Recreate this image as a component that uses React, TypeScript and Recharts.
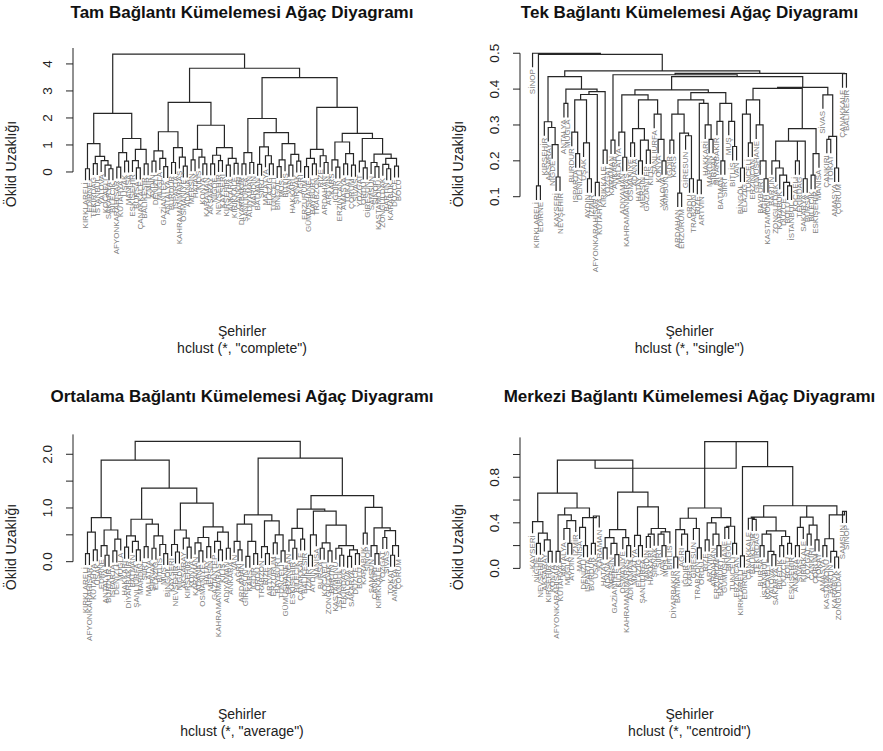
import React from "react";
import { ComposedChart, Line, Scatter, XAxis, YAxis, ReferenceLine } from "recharts";

// A dendrogram node is [merge height, left, right]; 0 is a leaf.
// Leaves take their city names from left to right.
type Tree = 0 | [number, Tree, Tree];

const completeTree: Tree = [4.36,
  [2.17,
    [1.05, [0.12, 0, 0], [0.58, [0.31, 0, 0], [0.42, 0, [0.25, 0, [0.12, 0, 0]]]]],
    [1.24, [0.72, [0.18, 0, 0], [0.4, 0, 0]], [0.84, [0.42, 0, [0.15, 0, 0]], [0.3, 0, 0]]]],
  [3.84,
    [2.58,
      [1.49, [0.78, [0.4, 0, 0], [0.5, 0, [0.2, 0, 0]]], [0.9, [0.35, 0, 0], [0.55, 0, [0.22, 0, 0]]]],
      [1.73, [0.84, [0.45, 0, 0], [0.55, 0, [0.3, 0, 0]]], [0.9, [0.62, [0.3, 0, 0], [0.42, 0, 0]], [0.5, [0.25, 0, 0], [0.32, 0, 0]]]]],
    [3.49,
      [1.98, [0.72, [0.3, 0, 0], [0.35, 0, 0]],
        [1.46, [0.93, [0.28, 0, 0], [0.6, 0, [0.3, 0, 0]]], [1.05, [0.45, [0.2, 0, 0], 0], [0.65, [0.25, 0, 0], [0.4, 0, 0]]]]],
      [2.39, [0.84, [0.5, [0.2, 0, 0], [0.3, 0, 0]], [0.6, 0, [0.35, 0, 0]]],
        [1.43, [1.11, [0.45, 0, [0.18, 0, 0]], [0.68, [0.3, 0, 0], [0.25, 0, 0]]],
          [1.24, [0.4, 0, [0.15, 0, 0]], [0.66, [0.35, 0, [0.2, 0, 0]], [0.5, [0.28, 0, [0.12, 0, 0]], [0.22, 0, 0]]]]]]]]];

const completeCities = ["KIRKLARELİ", "EDİRNE", "TEKİRDAĞ", "İSTANBUL", "YALOVA", "KOCAELİ", "SAKARYA", "BİLECİK",
  "AFYONKARAHİSAR", "KÜTAHYA", "UŞAK", "MANİSA", "ESKİŞEHİR", "BURSA", "ÇANAKKALE", "BALIKESİR", "İZMİR",
  "AYDIN", "DENİZLİ", "MUĞLA", "GAZİANTEP", "ANTALYA", "BURDUR", "ISPARTA", "KAHRAMANMARAŞ", "OSMANİYE", "ADANA",
  "MERSİN", "HATAY", "KİLİS", "KONYA", "KARAMAN", "AKSARAY", "NİĞDE", "NEVŞEHİR", "KAYSERİ", "KIRŞEHİR", "ANKARA",
  "KIRIKKALE", "ÇANKIRI", "DİYARBAKIR", "ŞANLIURFA", "ADIYAMAN", "MARDİN", "BATMAN", "SİİRT", "MALATYA", "ELAZIĞ",
  "TUNCELİ", "BİNGÖL", "MUŞ", "BİTLİS", "VAN", "HAKKARİ", "ŞIRNAK", "AĞRI", "ERZURUM", "GÜMÜŞHANE", "BAYBURT",
  "TRABZON", "RİZE", "ARDAHAN", "ARTVİN", "KARS", "IĞDIR", "ERZİNCAN", "AMASYA", "TOKAT", "ÇORUM", "SİVAS", "YOZGAT",
  "ORDU", "GİRESUN", "SAMSUN", "SİNOP", "KASTAMONU", "ZONGULDAK", "BARTIN", "KARABÜK", "DÜZCE", "BOLU"];

const singleTree: Tree = [0.5, 0,
  [0.497, [0.13, 0, 0],
    [0.451,
      [0.435,
        [0.309, 0, [0.293, 0, [0.245, 0, [0.155, 0, 0]]]],
        [0.4, [0.36, 0, 0], [0.393, [0.385, [0.37, [0.28, 0, [0.22, 0, 0]], [0.25, 0, [0.15, 0, 0]]], [0.14, 0, 0]], [0.23, 0, 0]]]],
      [0.444,
        [0.44, [0.258, 0, 0],
          [0.435,
            [0.398,
              [0.384, [0.28, 0, [0.21, 0, 0]], [0.37, [0.29, [0.25, 0, 0], [0.258, [0.2, 0, 0], [0.23, 0, 0]]], [0.33, 0, [0.26, 0, [0.2, 0, 0]]]]],
              [0.39, [0.37, [0.33, [0.258, 0, 0], [0.277, [0.11, 0, 0], [0.27, 0, [0.15, 0, 0]]]], [0.36, [0.146, 0, 0], [0.3, 0, [0.26, 0, 0]]]],
                [0.36, [0.31, 0, [0.2, 0, 0]], [0.31, 0, [0.24, 0, 0]]]]],
            [0.405,
              [0.402, [0.37, [0.33, [0.18, 0, 0], [0.25, 0, 0]], [0.3, 0, [0.2, 0, [0.15, 0, 0]]]],
                [0.29, [0.255, [0.2, 0, [0.18, 0, [0.16, 0, [0.14, 0, [0.13, 0, 0]]]]], [0.255, [0.2, 0, 0], [0.15, 0, 0]]], [0.22, [0.16, 0, 0], 0]]],
              [0.384, 0, [0.268, [0.26, 0, 0], [0.18, 0, 0]]]]]],
        [0.443, 0, 0]]]]];

const singleCities = ["SİNOP", "KIRKLARELİ", "EDİRNE", "KIRŞEHİR", "AKSARAY", "NİĞDE", "KAYSERİ", "NEVŞEHİR",
  "ANTALYA", "MUĞLA", "BURDUR", "ISPARTA", "DENİZLİ", "UŞAK", "AYDIN", "İZMİR", "AFYONKARAHİSAR", "KÜTAHYA",
  "KIRIKKALE", "YOZGAT", "KARAMAN", "ANKARA", "MALATYA", "ADIYAMAN", "KAHRAMANMARAŞ", "OSMANİYE", "ADANA", "HATAY",
  "MERSİN", "GAZİANTEP", "KİLİS", "ŞANLIURFA", "KONYA", "YALOVA", "SAMSUN", "IĞDIR", "KARS", "ARDAHAN", "ERZURUM",
  "GİRESUN", "ORDU", "TRABZON", "RİZE", "ARTVİN", "HAKKARİ", "MARDİN", "ŞIRNAK", "DİYARBAKIR", "BATMAN", "SİİRT",
  "MUŞ", "BİTLİS", "VAN", "BİNGÖL", "ELAZIĞ", "TUNCELİ", "ERZİNCAN", "GÜMÜŞHANE", "BAYBURT", "AĞRI", "KASTAMONU",
  "BARTIN", "ZONGULDAK", "KARABÜK", "DÜZCE", "BOLU", "İSTANBUL", "KOCAELİ", "TEKİRDAĞ", "SAKARYA", "BURSA", "BİLECİK",
  "ESKİŞEHİR", "MANİSA", "SİVAS", "ÇANKIRI", "TOKAT", "AMASYA", "ÇORUM", "ÇANAKKALE", "BALIKESİR"];

const averageTree: Tree = [2.24,
  [1.89,
    [0.82, [0.55, [0.15, 0, 0], [0.22, 0, 0]], [0.59, [0.3, 0, [0.12, 0, 0]], [0.42, [0.2, 0, 0], 0]]],
    [1.37,
      [0.79, [0.48, [0.27, 0, 0], [0.38, 0, [0.22, 0, 0]]], [0.7, [0.28, 0, 0], [0.48, [0.25, 0, 0], [0.32, 0, [0.15, 0, 0]]]]],
      [1.09, [0.59, [0.32, 0, [0.18, 0, 0]], [0.44, 0, [0.27, 0, 0]]],
        [0.65, [0.45, [0.35, 0, [0.2, 0, 0]], [0.28, 0, 0]], [0.55, [0.38, 0, [0.22, 0, 0]], [0.25, 0, 0]]]]]],
  [1.93,
    [0.87, [0.7, [0.38, 0, [0.22, 0, 0]], [0.38, [0.1, 0, 0], [0.15, 0, 0]]], [0.76, [0.28, 0, [0.15, 0, 0]], [0.5, [0.35, 0, 0], [0.2, 0, 0]]]],
    [1.23,
      [0.98, [0.62, [0.4, 0, [0.25, 0, 0]], [0.42, 0, 0]],
        [0.94, [0.5, [0.12, 0, 0], 0], [0.68, [0.35, [0.25, 0, 0], [0.2, 0, 0]], [0.3, [0.25, 0, [0.12, 0, 0]], [0.22, [0.1, 0, 0], [0.15, 0, 0]]]]]],
      [1.01, [0.53, 0, 0], [0.63, [0.3, 0, [0.15, 0, 0]], [0.58, [0.45, 0, 0], [0.3, [0.12, 0, 0], 0]]]]]]];

const averageCities = ["KIRKLARELİ", "AFYONKARAHİSAR", "KÜTAHYA", "UŞAK", "EDİRNE", "ANTALYA", "BURDUR", "ISPARTA",
  "DENİZLİ", "MUĞLA", "HAKKARİ", "DİYARBAKIR", "BATMAN", "ŞANLIURFA", "MARDİN", "SİİRT", "MALATYA", "ŞIRNAK",
  "ELAZIĞ", "BİTLİS", "MUŞ", "BİNGÖL", "KAYSERİ", "NEVŞEHİR", "NİĞDE", "AKSARAY", "KIRŞEHİR", "KONYA", "KARAMAN",
  "ADANA", "OSMANİYE", "HATAY", "MERSİN", "GAZİANTEP", "KAHRAMANMARAŞ", "KİLİS", "ADIYAMAN", "ANKARA", "VAN", "AĞRI",
  "ARDAHAN", "GİRESUN", "KARS", "IĞDIR", "ORDU", "TRABZON", "RİZE", "ARTVİN", "ERZURUM", "BAYBURT", "TUNCELİ",
  "GÜMÜŞHANE", "ERZİNCAN", "ESKİŞEHİR", "BİLECİK", "ÇANAKKALE", "BALIKESİR", "İZMİR", "AYDIN", "MANİSA", "BURSA",
  "KOCAELİ", "ZONGULDAK", "BARTIN", "KASTAMONU", "İSTANBUL", "TEKİRDAĞ", "YALOVA", "SAKARYA", "DÜZCE", "BOLU",
  "KARABÜK", "SİNOP", "SAMSUN", "ÇANKIRI", "KIRIKKALE", "YOZGAT", "SİVAS", "TOKAT", "AMASYA", "ÇORUM"];

// centroid linkage has inversions: a parent can sit below its children
const centroidTree: Tree = [0.879,
  [0.95,
    [0.66,
      [0.41, 0, [0.31, [0.22, 0, 0], [0.25, 0, [0.15, 0, 0]]]],
      [0.53, [0.47, [0.15, 0, 0], [0.42, [0.35, 0, [0.22, 0, 0]], 0]], [0.445, [0.36, 0, [0.2, 0, 0]], [0.46, [0.22, 0, 0], 0]]]],
    [0.67,
      [0.34, [0.27, [0.18, 0, 0], [0.22, 0, [0.12, 0, 0]]], [0.27, 0, [0.2, 0, 0]]],
      [0.54, [0.29, 0, [0.2, 0, 0]], [0.35, [0.3, [0.28, 0, 0], 0], [0.32, [0.3, 0, [0.2, 0, 0]], 0]]]]],
  [1.113,
    [0.53,
      [0.44, [0.34, [0.1, 0, 0], [0.3, 0, [0.15, 0, 0]]], [0.35, 0, [0.18, 0, 0]]],
      [0.445, [0.4, [0.25, 0, 0], [0.3, 0, [0.2, 0, 0]]], [0.37, [0.36, 0, 0], [0.22, 0, 0]]]],
    [0.893, [0.11, 0, 0],
      [0.55,
        [0.45, [0.44, 0, [0.43, 0, 0]], [0.33, [0.3, [0.2, 0, 0], [0.15, 0, [0.12, 0, 0]]], [0.28, [0.2, 0, 0], [0.22, 0, 0]]]],
        [0.548,
          [0.45, [0.36, [0.2, 0, 0], 0], [0.38, [0.3, 0, 0], [0.25, 0, 0]]],
          [0.47, [0.26, [0.2, 0, 0], [0.15, 0, [0.1, 0, 0]]], [0.5, 0, 0]]]]]]];

const centroidCities = ["KAYSERİ", "NİĞDE", "NEVŞEHİR", "AKSARAY", "KIRŞEHİR", "KONYA", "AFYONKARAHİSAR", "KÜTAHYA",
  "ANTALYA", "MUĞLA", "AYDIN", "İZMİR", "MANİSA", "DENİZLİ", "ISPARTA", "BURDUR", "UŞAK", "KARAMAN", "HATAY", "ADANA",
  "MERSİN", "GAZİANTEP", "KİLİS", "OSMANİYE", "KAHRAMANMARAŞ", "ADIYAMAN", "MALATYA", "ELAZIĞ", "ŞANLIURFA", "MARDİN",
  "HAKKARİ", "ŞIRNAK", "SİİRT", "VAN", "MUŞ", "BİTLİS", "DİYARBAKIR", "BATMAN", "AĞRI", "IĞDIR", "KARS", "GİRESUN",
  "TRABZON", "ORDU", "RİZE", "ARTVİN", "ARDAHAN", "ERZURUM", "BAYBURT", "GÜMÜŞHANE", "BİNGÖL", "TUNCELİ", "ERZİNCAN",
  "KIRKLARELİ", "EDİRNE", "ÇANAKKALE", "BALIKESİR", "TEKİRDAĞ", "BURSA", "İSTANBUL", "KOCAELİ", "YALOVA", "SAKARYA",
  "BİLECİK", "DÜZCE", "BOLU", "ESKİŞEHİR", "ANKARA", "SİVAS", "KIRIKKALE", "YOZGAT", "ÇANKIRI", "ÇORUM", "TOKAT",
  "AMASYA", "KASTAMONU", "BARTIN", "KARABÜK", "ZONGULDAK", "SAMSUN", "SİNOP"];

const completeTicks = [0, 1, 2, 3, 4];
const completeTickLabels = ["0", "1", "2", "3", "4"];
const singleTicks = [0.1, 0.2, 0.3, 0.4, 0.5];
const singleTickLabels = ["0.1", "0.2", "0.3", "0.4", "0.5"];
const averageTicks = [0, 0.5, 1, 1.5, 2];
const averageTickLabels = ["0.0", "", "1.0", "", "2.0"];
const centroidTicks = [0, 0.2, 0.4, 0.6, 0.8, 1.0];
const centroidTickLabels = ["0.0", "", "0.4", "", "0.8", ""];

const FONT = "'Liberation Sans', Arial, Helvetica, sans-serif";
const X_DOMAIN: [number, number] = [-2.2, 84.2];

type Link = { x: number; y: number | null };
type Leaf = { x: number; y: number; name: string };

function buildDendrogram(tree: Tree, cities: string[]) {
  const heights: number[] = [];
  const collect = (t: Tree) => {
    if (t === 0) return;
    heights.push(t[0]);
    collect(t[1]);
    collect(t[2]);
  };
  collect(tree);
  const hang = 0.1 * (Math.max(...heights) - Math.min(...heights));
  const links: Link[] = [];
  const leaves: Leaf[] = [];
  let next = 1;
  const walk = (t: Tree, parentH: number): { x: number; y: number } => {
    if (t === 0) {
      const x = next++;
      const y = parentH - hang;
      leaves.push({ x, y, name: cities[x - 1] });
      return { x, y };
    }
    const [h, l, r] = t;
    const a = walk(l, h);
    const b = walk(r, h);
    links.push({ x: a.x, y: a.y }, { x: a.x, y: h }, { x: b.x, y: h }, { x: b.x, y: b.y }, { x: b.x, y: null });
    return { x: (a.x + b.x) / 2, y: h };
  };
  walk(tree, 0);
  return { links, leaves };
}

type PanelProps = {
  tree: Tree;
  cities: string[];
  ticks: number[];
  tickLabels: string[];
  axisTop: number;
  yDomain: [number, number];
  box: { left: number; top: number; width: number; height: number };
  axisWidth: number;
  margin: { top: number; right: number; bottom: number; left: number };
};

function Dendrogram(p: PanelProps) {
  const { links, leaves } = buildDendrogram(p.tree, p.cities);
  const renderTick = (t: any) => {
    const idx = p.ticks.indexOf(t.payload.value);
    const label = p.tickLabels[idx] ?? "";
    return (
      <text x={t.x} y={t.y} transform={`rotate(-90 ${t.x} ${t.y})`} textAnchor="middle"
        dominantBaseline="central" fontSize={13.5} fontFamily={FONT} fill="#222">{label}</text>
    );
  };
  const renderLeaf = (s: any) => (
    <text x={s.cx} y={s.cy + 2} transform={`rotate(-90 ${s.cx} ${s.cy + 2})`} textAnchor="end"
      dominantBaseline="central" fontSize={8} fontFamily={FONT} fill="#808080">{s.payload.name}</text>
  );
  return (
    <div style={{ position: "absolute", left: p.box.left, top: p.box.top }}>
      <ComposedChart width={p.box.width} height={p.box.height} margin={p.margin}>
        <XAxis type="number" dataKey="x" domain={X_DOMAIN} allowDataOverflow hide />
        <YAxis type="number" dataKey="y" domain={p.yDomain} allowDataOverflow width={p.axisWidth}
          ticks={p.ticks} interval={0} tick={renderTick} axisLine={false}
          tickLine={{ stroke: "#222" }} tickSize={7} tickMargin={18} />
        <ReferenceLine ifOverflow="visible" stroke="#222"
          segment={[{ x: X_DOMAIN[0], y: p.ticks[0] }, { x: X_DOMAIN[0], y: p.axisTop }]} />
        <Scatter data={leaves} shape={renderLeaf} isAnimationActive={false} />
        <Line data={links} dataKey="y" type="linear" stroke="#262626" strokeWidth={1.2}
          dot={false} activeDot={false} connectNulls={false} isAnimationActive={false} />
      </ComposedChart>
    </div>
  );
}

const panels = [
  { tree: completeTree, cities: completeCities, ticks: completeTicks, tickLabels: completeTickLabels,
    axisTop: 4.59, yDomain: [-4.74, 4.59] as [number, number],
    box: { left: 0, top: 0, width: 441, height: 375 }, axisWidth: 73,
    margin: { top: 48, right: 30, bottom: 75, left: 0 },
    title: "Tam Bağlantı Kümelemesi Ağaç Diyagramı", method: "complete" },
  { tree: singleTree, cities: singleCities, ticks: singleTicks, tickLabels: singleTickLabels,
    axisTop: 0.5, yDomain: [-0.188, 0.516] as [number, number],
    box: { left: 441, top: 0, width: 442, height: 375 }, axisWidth: 79,
    margin: { top: 47.5, right: 24, bottom: 75, left: 0 },
    title: "Tek Bağlantı Kümelemesi Ağaç Diyagramı", method: "single" },
  { tree: averageTree, cities: averageCities, ticks: averageTicks, tickLabels: averageTickLabels,
    axisTop: 2.37, yDomain: [-2.203, 2.37] as [number, number],
    box: { left: 0, top: 375, width: 441, height: 376 }, axisWidth: 73,
    margin: { top: 59.4, right: 30, bottom: 71, left: 0 },
    title: "Ortalama Bağlantı Kümelemesi Ağaç Diyagramı", method: "average" },
  { tree: centroidTree, cities: centroidCities, ticks: centroidTicks, tickLabels: centroidTickLabels,
    axisTop: 1.15, yDomain: [-0.98, 1.15] as [number, number],
    box: { left: 441, top: 375, width: 442, height: 376 }, axisWidth: 79,
    margin: { top: 62.4, right: 24, bottom: 71, left: 0 },
    title: "Merkezi Bağlantı Kümelemesi Ağaç Diyagramı", method: "centroid" },
];

export default function App() {
  return (
    <div style={{ position: "absolute", left: 0, top: 0, width: 883, height: 751, background: "#fff", overflow: "hidden" }}>
      {panels.map((p, i) => (
        <Dendrogram key={i} {...p} />
      ))}
      <svg width={883} height={751} style={{ position: "absolute", left: 0, top: 0, pointerEvents: "none" }}>
        {panels.map((p, i) => {
          const plotLeft = p.box.left + p.axisWidth;
          const plotRight = p.box.left + p.box.width - p.margin.right;
          const cx = (plotLeft + plotRight) / 2;
          const dy = p.box.top === 0 ? 0 : 383;
          const labelX = plotLeft - 57;
          return (
            <g key={i} fontFamily={FONT}>
              <text x={cx} y={17.5 + (dy ? 384.5 : 0)} textAnchor="middle" fontSize={17} fontWeight="bold" fill="#111">{p.title}</text>
              <text x={cx} y={336 + dy} textAnchor="middle" fontSize={14} fill="#222">Şehirler</text>
              <text x={cx} y={353 + dy} textAnchor="middle" fontSize={14} fill="#222">{`hclust (*, "${p.method}")`}</text>
              <text x={labelX} y={164 + dy} transform={`rotate(-90 ${labelX} ${164 + dy})`} textAnchor="middle"
                fontSize={14} fill="#222">Öklid Uzaklığı</text>
            </g>
          );
        })}
      </svg>
    </div>
  );
}
